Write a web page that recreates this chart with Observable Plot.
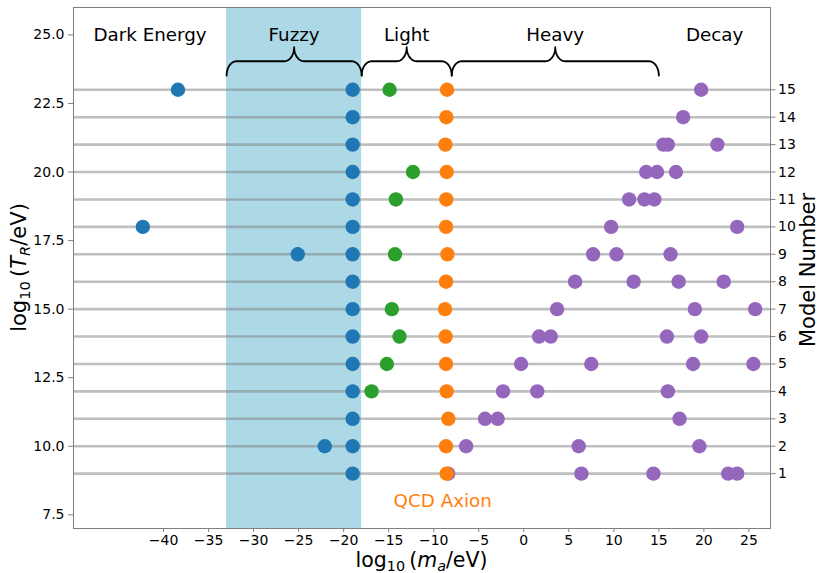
<!DOCTYPE html>
<html>
<head>
<meta charset="utf-8">
<script src="https://cdn.jsdelivr.net/npm/d3@7"></script>
<script src="https://cdn.jsdelivr.net/npm/@observablehq/plot@0.6"></script>
<style>
  html, body { margin: 0; padding: 0; background: #fff; }
  #chart svg { display: block; }
</style>
</head>
<body>
<div id="chart"></div>
<script>
// ---------- data ----------
const modelNumbers = [1, 2, 3, 4, 5, 6, 7, 8, 9, 10, 11, 12, 13, 14, 15];
const modelLogT    = [9, 10, 11, 12, 13, 14, 15, 16, 17, 18, 19, 20, 21, 22, 23]; // log10(T_R/eV) of each model

// [model, log10(m_a/eV)]
const bluePoints = [
  [1, -19], [2, -19], [2, -22.1], [3, -19], [4, -19], [5, -19], [6, -19], [7, -19],
  [8, -19], [9, -19], [9, -25.1], [10, -19], [10, -42.3], [11, -19], [12, -19],
  [13, -19], [14, -19], [15, -19], [15, -38.4]
];
const greenPoints = [
  [4, -16.9], [5, -15.2], [6, -13.8], [7, -14.65], [9, -14.3], [11, -14.2], [12, -12.3], [15, -14.9]
];
const orangePoints = [
  [1, -8.56], [2, -8.63], [3, -8.37], [4, -8.56], [5, -8.63], [6, -8.67], [7, -8.74], [8, -8.63],
  [9, -8.48], [10, -8.63], [11, -8.6], [12, -8.56], [13, -8.7], [14, -8.6], [15, -8.52]
];
const purplePoints = [
  [1, -8.4], [1, 6.4], [1, 14.4], [1, 22.7], [1, 23.7],
  [2, -6.4], [2, 6.1], [2, 19.5],
  [3, -4.3], [3, -2.9], [3, 17.3],
  [4, -2.3], [4, 1.5], [4, 16.0],
  [5, -0.3], [5, 7.5], [5, 18.8], [5, 25.5],
  [6, 1.7], [6, 3.0], [6, 15.9], [6, 19.7],
  [7, 3.7], [7, 19.0], [7, 25.7],
  [8, 5.7], [8, 12.2], [8, 17.2], [8, 22.2],
  [9, 7.7], [9, 10.3], [9, 16.3],
  [10, 9.7], [10, 23.7],
  [11, 11.7], [11, 13.4], [11, 14.5],
  [12, 13.6], [12, 14.8], [12, 16.9],
  [13, 15.5], [13, 16.0], [13, 21.5],
  [14, 17.7],
  [15, 19.7]
];

const fuzzyBand = { from: -33, to: -18 };
const bracedRegions = [
  { label: "Fuzzy", from: -33, to: -18 },
  { label: "Light", from: -18, to: -8 },
  { label: "Heavy", from: -8, to: 15 }
];
const freeRegionLabels = [
  { label: "Dark Energy", x: -41.5 },
  { label: "Decay", x: 21.2 }
];
const regionLabelLogT = 25;
const qcdLabel = { label: "QCD Axion", x: -9, y: 8 };

const xTicks = [-40, -35, -30, -25, -20, -15, -10, -5, 0, 5, 10, 15, 20, 25];
const yTicks = [7.5, 10, 12.5, 15, 17.5, 20, 22.5, 25];
const xDomain = [-50, 27.4];
const yDomain = [7, 26];

// ---------- helpers ----------
const modelY = m => modelLogT[modelNumbers.indexOf(m)];
const toRows = pts => pts.map(([m, x]) => ({ x, y: modelY(m) }));
const fmtMinus = d => (d < 0 ? "\u2212" + Math.abs(d) : String(d));

function bracePath(a, b, id) {
  const w = 1.1, yE = 23.52, yB = 24.04, yP = 24.55, n = 14;
  const m = (a + b) / 2, pts = [];
  const q = t => t * Math.PI / 2;
  for (let i = 0; i <= n; i++) { const t = q(i / n); pts.push({ id, x: a + w * (1 - Math.cos(t)), y: yE + (yB - yE) * Math.sin(t) }); }
  for (let i = 0; i <= n; i++) { const t = q(i / n); pts.push({ id, x: m - w + w * Math.sin(t), y: yB + (yP - yB) * (1 - Math.cos(t)) }); }
  for (let i = n; i >= 0; i--) { const t = q(i / n); pts.push({ id, x: m + w - w * Math.sin(t), y: yB + (yP - yB) * (1 - Math.cos(t)) }); }
  for (let i = n; i >= 0; i--) { const t = q(i / n); pts.push({ id, x: b - w * (1 - Math.cos(t)), y: yE + (yB - yE) * Math.sin(t) }); }
  return pts;
}
const braceRows = bracedRegions.flatMap((r, i) => bracePath(r.from, r.to, i));
const labelRows = [
  ...freeRegionLabels.map(d => ({ label: d.label, x: d.x })),
  ...bracedRegions.map(d => ({ label: d.label, x: (d.from + d.to) / 2 }))
];

// ---------- plot ----------
const axisGrey = "#808080";
const chart = Plot.plot({
  width: 819,
  height: 573,
  marginLeft: 73,
  marginRight: 49,
  marginTop: 7,
  marginBottom: 45,
  style: { fontFamily: "DejaVu Sans", fontSize: "14px", background: "#fff", color: "#000" },
  x: { domain: xDomain },
  y: { domain: yDomain },
  marks: [
    Plot.rect([fuzzyBand], { x1: "from", x2: "to", y1: () => yDomain[0], y2: () => yDomain[1], fill: "#add8e6" }),
    Plot.ruleY(modelLogT, { stroke: "#808080", strokeOpacity: 0.5, strokeWidth: 2.6 }),
    Plot.dot(toRows(bluePoints), { x: "x", y: "y", r: 7.2, fill: "#1f77b4" }),
    Plot.dot(toRows(greenPoints), { x: "x", y: "y", r: 7.2, fill: "#2ca02c" }),
    Plot.dot(toRows(purplePoints), { x: "x", y: "y", r: 7.2, fill: "#9467bd" }),
    Plot.dot(toRows(orangePoints), { x: "x", y: "y", r: 7.2, fill: "#ff7f0e" }),
    Plot.line(braceRows, { x: "x", y: "y", z: "id", stroke: "#000", strokeWidth: 1.8, curve: "linear" }),
    Plot.text(labelRows, { x: "x", y: () => regionLabelLogT, text: "label", fontSize: 18.3, fill: "#000" }),
    Plot.text([qcdLabel], { x: "x", y: "y", text: "label", fontSize: 18.3, fill: "#ff7f0e" }),
    Plot.frame({ stroke: axisGrey, strokeWidth: 1 }),
    Plot.axisX({ ticks: xTicks, tickFormat: fmtMinus, tickSize: 4, tickPadding: 3, label: null, stroke: axisGrey, fill: "#000", fontSize: 14 }),
    Plot.axisY({ ticks: yTicks, tickFormat: d => d.toFixed(1), tickSize: 5, tickPadding: 4, label: null, stroke: axisGrey, fill: "#000", fontSize: 14 }),
    Plot.axisY({ anchor: "right", ticks: modelLogT, tickFormat: d => String(modelNumbers[modelLogT.indexOf(d)]), tickSize: 4.5, tickPadding: 3, label: null, stroke: axisGrey, fill: "#000", fontSize: 14 })
  ]
});
document.getElementById("chart").appendChild(chart);

// ---------- axis titles with sub-scripts ----------
const svg = d3.select(chart);
function mathLabel(parts, x, y, rotate, size) {
  const t = svg.append("text")
    .attr("transform", `translate(${x},${y}) rotate(${rotate})`)
    .attr("text-anchor", "middle")
    .attr("font-family", "DejaVu Sans")
    .attr("font-size", size)
    .attr("fill", "#000");
  let shifted = 0;
  for (const [s, kind] of parts) {
    const sub = kind.includes("sub");
    const ts = t.append("tspan").text(s);
    const target = sub ? 0.17 * size : 0;
    if (target !== shifted) { ts.attr("dy", target - shifted); shifted = target; }
    if (sub) ts.attr("font-size", 0.7 * size);
    if (kind.includes("ital")) ts.attr("font-style", "italic");
  }
  return t;
}
mathLabel([["log", ""], ["10", "sub"], ["\u2009(", ""], ["m", "ital"], ["a", "ital sub"], ["/eV)", ""]], 421.5, 567, 0, 20.5);
mathLabel([["log", ""], ["10", "sub"], ["\u2009(", ""], ["T", "ital"], ["R", "ital sub"], ["/eV)", ""]], 26, 267.5, -90, 21);
mathLabel([["Model Number", ""]], 815, 270, -90, 21);
</script>
</body>
</html>
